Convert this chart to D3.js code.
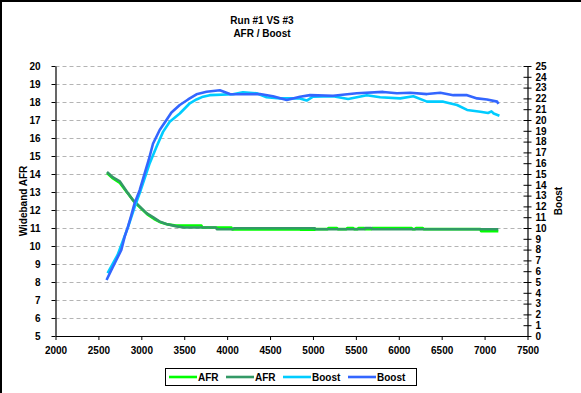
<!DOCTYPE html>
<html>
<head>
<meta charset="utf-8">
<script src="https://cdn.jsdelivr.net/npm/d3@7"></script>
<style>
body { margin: 0; background: #fff; }
text { font-family: "Liberation Sans", Arial, sans-serif; font-weight: bold; font-size: 10px; fill: #000; }
</style>
</head>
<body>
<div id="chart"></div>
<script>
// DATA

var xTicks = [2000, 2500, 3000, 3500, 4000, 4500, 5000, 5500, 6000, 6500, 7000, 7500];
var afrTicks = [5, 6, 7, 8, 9, 10, 11, 12, 13, 14, 15, 16, 17, 18, 19, 20];
var boostTicks = d3.range(0, 26);

var afr1 = [
    [2600, 14.05], [2670, 13.75], [2750, 13.5], [2830, 13.0], [2910, 12.5], [2990, 12.12],
    [3070, 11.76], [3150, 11.5], [3230, 11.3], [3310, 11.2], [3400, 11.14], [3700, 11.14],
    [3710, 11.03], [4050, 11.03], [4060, 10.92], [4850, 10.92], [4860, 10.9], [5020, 10.9],
    [5030, 10.94], [5170, 10.94], [5180, 11.0], [5280, 11.0], [5290, 10.94], [5390, 10.94],
    [5400, 11.0], [5470, 11.0], [5480, 10.94], [5520, 10.94], [5530, 11.0], [5600, 11.0],
    [5610, 10.94], [5680, 10.94], [5690, 11.0], [6150, 11.0], [6160, 10.94], [6190, 10.94],
    [6200, 11.0], [6280, 11.0], [6290, 10.94], [6950, 10.94], [6960, 10.82], [7160, 10.82]
];

var afr2 = [
    [2600, 14.11], [2670, 13.81], [2750, 13.59], [2830, 13.03], [2900, 12.57], [2980, 12.2],
    [3060, 11.83], [3140, 11.59], [3210, 11.37], [3290, 11.22], [3410, 11.09], [3500, 11.03],
    [3870, 11.03], [3880, 10.93], [4070, 10.93], [4080, 10.99], [5020, 10.99], [5030, 10.93],
    [5600, 10.93], [5610, 11.0], [5680, 11.0], [5690, 10.93], [7160, 10.93]
];

var boost1 = [
    [2607, 5.83], [2724, 7.5], [2841, 10.0], [2922, 11.94], [2993, 13.5], [3098, 16.0],
    [3176, 17.5], [3253, 18.9], [3331, 19.84], [3448, 20.6], [3565, 21.55], [3643, 21.9],
    [3720, 22.16], [3798, 22.3], [4067, 22.38], [4184, 22.56], [4344, 22.47], [4460, 22.1],
    [4616, 22.0], [4849, 22.0], [4927, 21.8], [5001, 22.16], [5235, 22.2], [5410, 21.94],
    [5628, 22.3], [5783, 22.1], [6017, 22.0], [6169, 22.2], [6329, 21.7], [6519, 21.7],
    [6679, 21.39], [6796, 20.93], [6951, 20.77], [7040, 20.65], [7080, 20.8], [7106, 20.6],
    [7173, 20.4]
];

var boost2 = [
    [2595, 5.19], [2650, 6.1], [2709, 7.04], [2767, 7.96], [2806, 9.2], [2844, 10.1],
    [2884, 11.2], [2922, 12.3], [2981, 13.5], [3039, 15.06], [3086, 16.3], [3136, 17.8],
    [3214, 19.07], [3293, 20.0], [3351, 20.7], [3448, 21.39], [3545, 21.9], [3643, 22.38],
    [3760, 22.62], [3915, 22.75], [4032, 22.4], [4187, 22.38], [4382, 22.4], [4534, 22.2],
    [4694, 21.85], [4849, 22.16], [4966, 22.3], [5235, 22.25], [5511, 22.47], [5818, 22.6],
    [5978, 22.47], [6134, 22.53], [6329, 22.4], [6484, 22.53], [6636, 22.3], [6796, 22.3],
    [6913, 22.0], [7029, 21.9], [7146, 21.7], [7161, 21.5]
];

var seriesNames = ["AFR", "AFR", "Boost", "Boost"];
var seriesColors = ["#00ff00", "#339966", "#00ccff", "#3366ff"];

// CHART

var width = 581;
var height = 393;
var plotLeft = 55.5, plotRight = 527.5, plotTop = 66, plotBottom = 336;

var svg = d3.select("#chart").append("svg")
    .attr("width", width)
    .attr("height", height);

// frame (only top and left show in the picture)
svg.append("path")
    .attr("d", "M1,393V1H581")
    .attr("fill", "none")
    .attr("stroke", "#000")
    .attr("stroke-width", 2);

var x = d3.scaleLinear().domain([2000, 7500]).range([plotLeft, plotRight]);
var yAfr = d3.scaleLinear().domain([5, 20]).range([plotBottom, plotTop]);
var yBoost = d3.scaleLinear().domain([0, 25]).range([plotBottom, plotTop]);

// grid
svg.append("g")
    .selectAll("line")
    .data(afrTicks.slice(1))
    .join("line")
    .attr("x1", plotLeft)
    .attr("x2", plotRight)
    .attr("y1", d => Math.round(yAfr(d)) + 0.5)
    .attr("y2", d => Math.round(yAfr(d)) + 0.5)
    .attr("stroke", "#b4b4b4")
    .attr("stroke-dasharray", "4,3");

// title
svg.append("text").attr("x", 262).attr("y", 24).attr("text-anchor", "middle").text("Run #1 VS #3");
svg.append("text").attr("x", 262).attr("y", 37).attr("text-anchor", "middle").text("AFR / Boost");

// series
var lineAfr = d3.line().x(d => x(d[0])).y(d => yAfr(d[1]));
var lineBoost = d3.line().x(d => x(d[0])).y(d => yBoost(d[1]));

var plot = svg.append("g");
[[afr1, lineAfr], [afr2, lineAfr], [boost1, lineBoost], [boost2, lineBoost]].forEach((s, i) => {
    plot.append("path")
        .attr("d", s[1](s[0]))
        .attr("fill", "none")
        .attr("stroke", seriesColors[i])
        .attr("stroke-width", 2.6)
        .attr("stroke-linejoin", "round");
});

// axes
var xAxis = d3.axisBottom(x).tickValues(xTicks).tickSize(4).tickSizeOuter(0).tickPadding(7).tickFormat(d3.format("d"));
svg.append("g")
    .attr("transform", "translate(0," + plotBottom + ")")
    .call(xAxis);

var yAxisL = d3.axisLeft(yAfr).tickValues(afrTicks).tickSize(4).tickSizeOuter(0).tickPadding(11);
svg.append("g")
    .attr("transform", "translate(" + plotLeft + ",0)")
    .call(yAxisL);

var yAxisR = d3.axisRight(yBoost).tickValues(boostTicks).tickSize(4).tickSizeOuter(0).tickPadding(4);
var gR = svg.append("g")
    .attr("transform", "translate(" + plotRight + ",0)")
    .call(yAxisR);
gR.selectAll(".tick line").attr("x1", -4);

svg.selectAll(".domain").attr("stroke", "#000").attr("stroke-width", 1.2);
svg.selectAll(".tick text").style("font-family", "'Liberation Sans', Arial, sans-serif").style("font-weight", "bold").style("font-size", "10px");

// axis titles
svg.append("text")
    .attr("transform", "translate(27,201) rotate(-90)")
    .attr("text-anchor", "middle")
    .text("Wideband AFR");
svg.append("text")
    .attr("transform", "translate(562,201) rotate(-90)")
    .attr("text-anchor", "middle")
    .text("Boost");

// legend
var legend = svg.append("g");
legend.append("rect")
    .attr("x", 165.5).attr("y", 368.5)
    .attr("width", 251).attr("height", 17)
    .attr("fill", "#fff").attr("stroke", "#000");

var legendX = [169, 226, 283, 348];
seriesNames.forEach((name, i) => {
    legend.append("line")
        .attr("x1", legendX[i]).attr("x2", legendX[i] + 28)
        .attr("y1", 377).attr("y2", 377)
        .attr("stroke", seriesColors[i]).attr("stroke-width", 2.6);
    legend.append("text")
        .attr("x", legendX[i] + 29).attr("y", 381)
        .text(name);
});
</script>
</body>
</html>
